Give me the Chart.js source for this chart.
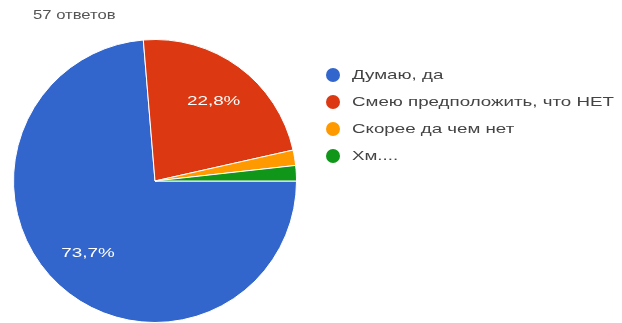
<!DOCTYPE html>
<html>
<head>
<meta charset="utf-8">
<script src="https://cdn.jsdelivr.net/npm/chart.js@4"></script>
<style>
  body { margin: 0; background: #fff; font-family: "Liberation Sans", Arial, sans-serif; }
  #wrap { position: relative; width: 622px; height: 323px; overflow: hidden; }
  #chart { position: absolute; left: 0; top: 0; }
  .wide { display: inline-block; transform-origin: 0 50%; white-space: nowrap; }
  #count { position: absolute; left: 33px; top: 7px; font-size: 13px; color: #555; }
  #count .wide { transform: scaleX(1.28); }
  #legend { position: absolute; left: 326px; top: 67px; margin: 0; padding: 0; list-style: none; }
  #legend li { height: 27px; font-size: 13px; color: #444; display: flex; align-items: flex-start; }
  #legend li .wide { transform: scaleX(1.44); }
  #legend span.dot { width: 14px; height: 14px; border-radius: 50%; margin-right: 12px; margin-top: 1px; flex: none; }
</style>
</head>
<body>
<div id="wrap">
  <canvas id="chart" width="622" height="323"></canvas>
  <div id="count"><span class="wide">57 ответов</span></div>
  <ul id="legend"></ul>
</div>
<script>
var labels = ["Думаю, да", "Смею предположить, что НЕТ", "Скорее да чем нет", "Хм...."];
var answers = [42, 13, 1, 1];
var colors = ["#3366cc", "#dc3912", "#ff9900", "#109618"];

var total = answers.reduce(function(a, b) { return a + b; }, 0);

// percent labels inside the larger slices
var sliceLabels = {
  id: "sliceLabels",
  afterDatasetsDraw: function(chart) {
    var ctx = chart.ctx;
    var meta = chart.getDatasetMeta(0);
    ctx.save();
    ctx.fillStyle = "#fff";
    ctx.font = "13px 'Liberation Sans', Arial, sans-serif";
    ctx.textAlign = "center";
    ctx.textBaseline = "middle";
    meta.data.forEach(function(arc, i) {
      var pct = answers[i] / total * 100;
      if (pct < 5) return;
      var mid = (arc.startAngle + arc.endAngle) / 2;
      var r = arc.outerRadius * 0.7;
      ctx.save();
      ctx.translate(arc.x + Math.cos(mid) * r, arc.y + Math.sin(mid) * r);
      ctx.scale(1.45, 1);
      ctx.fillText(pct.toFixed(1).replace(".", ",") + "%", 0, 0);
      ctx.restore();
    });
    ctx.restore();
  }
};

new Chart(document.getElementById("chart"), {
  type: "pie",
  data: {
    labels: labels,
    datasets: [{
      data: answers,
      backgroundColor: colors,
      borderColor: "#fff",
      borderWidth: 1
    }]
  },
  options: {
    responsive: false,
    animation: false,
    rotation: 90,
    layout: { padding: { left: 13, top: 39, right: 325, bottom: 0 } },
    plugins: { legend: { display: false }, tooltip: { enabled: false } }
  },
  plugins: [sliceLabels]
});

var legend = document.getElementById("legend");
labels.forEach(function(name, i) {
  var li = document.createElement("li");
  var dot = document.createElement("span");
  dot.className = "dot";
  dot.style.background = colors[i];
  var txt = document.createElement("span");
  txt.className = "wide";
  txt.textContent = name;
  li.appendChild(dot);
  li.appendChild(txt);
  legend.appendChild(li);
});
</script>
</body>
</html>
